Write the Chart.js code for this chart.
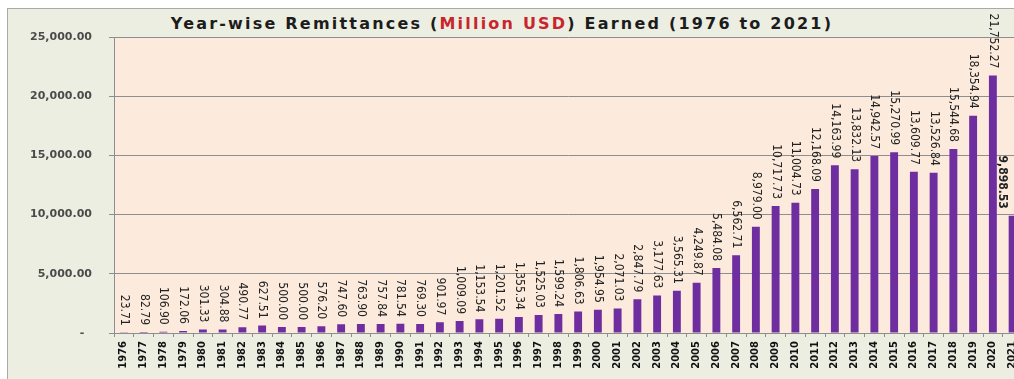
<!DOCTYPE html>
<html>
<head>
<meta charset="utf-8">
<script src="https://cdn.jsdelivr.net/npm/chart.js@4"></script>
<style>
  html, body { margin: 0; padding: 0; overflow: hidden; background: #ffffff; width: 1014px; height: 379px; }
  #frame { position: absolute; left: 7px; top: 8px; width: 1060px; height: 420px; border: 1px solid #a9a9a9; background: #eceee2; }
  #title { position: absolute; left: 0; top: 14px; width: 1004px; text-align: center; white-space: nowrap; line-height: 1;
           font: bold 16px "DejaVu Sans", Verdana, sans-serif; letter-spacing: 2.2px; color: #1c1c1c; }
  #title .unit { color: #c8252c; }
  #chart { position: absolute; left: 0; top: 0; }
</style>
</head>
<body>
<div id="frame"></div>
<div id="title">Year-wise Remittances (<span class="unit">Million USD</span>) Earned (1976 to 2021)</div>
<canvas id="chart" width="1040" height="379"></canvas>
<script>
// Remittances earned per year, million USD
const years = [
  '1976','1977','1978','1979','1980','1981','1982','1983','1984','1985',
  '1986','1987','1988','1989','1990','1991','1992','1993','1994','1995',
  '1996','1997','1998','1999','2000','2001','2002','2003','2004','2005',
  '2006','2007','2008','2009','2010','2011','2012','2013','2014','2015',
  '2016','2017','2018','2019','2020','2021'
];
const remittances = [
  23.71, 82.79, 106.90, 172.06, 301.33, 304.88, 490.77, 627.51, 500.00, 500.00,
  576.20, 747.60, 763.90, 757.84, 781.54, 769.30, 901.97, 1009.09, 1153.54, 1201.52,
  1355.34, 1525.03, 1599.24, 1806.63, 1954.95, 2071.03, 2847.79, 3177.63, 3565.31, 4249.87,
  5484.08, 6562.71, 8979.00, 10717.73, 11004.73, 12168.09, 14163.99, 13832.13, 14942.57, 15270.99,
  13609.77, 13526.84, 15544.68, 18354.94, 21752.27, 9898.53
];
// Partial-year figure shown in bold
const boldYears = ['2021'];
const yMin = 0;
const yMax = 25000;
const yStep = 5000;

const fmt = v => v.toLocaleString('en-US', { minimumFractionDigits: 2, maximumFractionDigits: 2 });

const plotBackground = {
  id: 'plotBackground',
  beforeDraw(chart) {
    const { ctx, chartArea: a } = chart;
    ctx.save();
    ctx.fillStyle = '#fcebdc';
    ctx.fillRect(a.left, a.top, a.right - a.left, a.bottom - a.top);
    ctx.restore();
  }
};

// Vertical value labels sitting just above each bar, kept clear of the right edge
const barValues = {
  id: 'barValues',
  afterDatasetsDraw(chart) {
    const { ctx, chartArea } = chart;
    const meta = chart.getDatasetMeta(0);
    const data = chart.data.datasets[0].data;
    const maxX = chartArea.right - 20;
    ctx.save();
    ctx.fillStyle = '#222222';
    meta.data.forEach((bar, i) => {
      const bold = boldYears.includes(chart.data.labels[i]);
      ctx.font = (bold ? 'bold ' : '') + '12px "Liberation Sans Narrow", "Arial Narrow", "DejaVu Sans Condensed", sans-serif';
      ctx.save();
      ctx.translate(Math.min(bar.x, maxX), bar.y - 7);
      ctx.rotate(Math.PI / 2);
      ctx.textAlign = 'right';
      ctx.textBaseline = 'middle';
      ctx.fillText(fmt(data[i]), 0, 0);
      ctx.restore();
    });
    ctx.restore();
  }
};

new Chart(document.getElementById('chart'), {
  type: 'bar',
  data: {
    labels: years,
    datasets: [{
      data: remittances,
      backgroundColor: '#6f2ea0',
      borderWidth: 0,
      categoryPercentage: 1,
      barPercentage: 0.4
    }]
  },
  options: {
    responsive: false,
    animation: false,
    devicePixelRatio: 1,
    layout: { padding: { left: 0, right: 17.5, top: 37, bottom: 0 } },
    plugins: { legend: { display: false }, tooltip: { enabled: false }, title: { display: false } },
    scales: {
      x: {
        afterFit(scale) { scale.height = 46; },
        grid: { drawOnChartArea: false, offset: true, tickLength: 4, color: '#8e8e8e' },
        border: { color: '#8e8e8e' },
        ticks: {
          autoSkip: false, maxRotation: 90, minRotation: 90, padding: 4,
          color: '#111111',
          font: { family: '"DejaVu Sans", sans-serif', size: 10, weight: 'bold' }
        }
      },
      y: {
        min: yMin, max: yMax,
        afterFit(scale) { scale.width = 114; },
        grid: { color: '#8e8e8e', tickLength: 5 },
        border: { color: '#8e8e8e' },
        ticks: {
          stepSize: yStep, padding: 17,
          color: '#4a4a4a',
          font: { family: '"DejaVu Sans", sans-serif', size: 11, weight: 'bold' },
          callback: v => v === 0 ? '-  ' : fmt(v)
        }
      }
    }
  },
  plugins: [plotBackground, barValues]
});
</script>
</body>
</html>
